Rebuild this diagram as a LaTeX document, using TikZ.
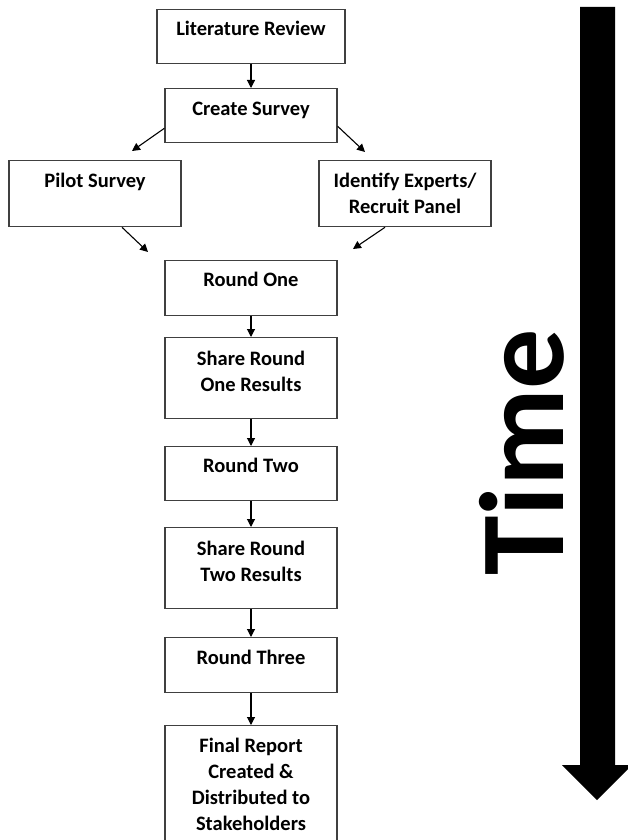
\documentclass[tikz,border=0pt]{standalone}
\usepackage{fontspec}
\setmainfont{Carlito}
\usetikzlibrary{arrows.meta}

\tikzset{
  stage/.style={draw=black!75, line width=1.3pt, align=center,
    minimum width=172pt, inner xsep=4pt, inner ysep=0pt, anchor=north,
    font=\fontsize{20.5}{26}\selectfont\bfseries,
    text height=26pt, text depth=28pt},
  flow/.style={->, line width=1.1pt},
}

\begin{document}
\begin{tikzpicture}[x=1pt, y=-1pt, >={Triangle[length=8pt,width=8pt]}]
    \useasboundingbox (0,0) rectangle (628,840);
    \clip (0,0) rectangle (628,840);

    % Etapas del estudio
    \node[stage, minimum width=188pt] (lit) at (251,9) {Literature Review};
    \node[stage, text height=27pt, text depth=27pt] (create) at (251,88) {Create Survey};
    \node[stage, text height=27pt, text depth=39pt] (pilot) at (95,160) {Pilot Survey};
    \node[stage, text height=53pt, text depth=13pt] (expert) at (405,160) {Identify Experts/\\Recruit Panel};
    \node[stage, text depth=29pt] (r1) at (251,260) {Round One};
    \node[stage, text height=54pt, text depth=27pt] (share1) at (251,337) {Share Round\\One Results};
    \node[stage] (r2) at (251,446) {Round Two};
    \node[stage, text height=54pt, text depth=27pt] (share2) at (251,527) {Share Round\\Two Results};
    \node[stage, text height=27pt] (r3) at (251,637) {Round Three};
    \node[stage, text height=105pt, text depth=30pt] (final) at (251,725) {Final Report\\Created \&\\Distributed to\\Stakeholders};

    % Puntas libres de las flechas diagonales
    \coordinate (pilottip) at (132,151);
    \coordinate (experttip) at (365,152);
    \coordinate (r1left) at (148,252);
    \coordinate (r1right) at (353,249);

    % Flechas entre etapas
    \draw[flow] (lit) -- (create);
    \draw[flow] ([yshift=15pt]create.south west) -- (pilottip);
    \draw[flow] ([yshift=17pt]create.south east) -- (experttip);
    \draw[flow] ([xshift=27pt]pilot.south) -- (r1left);
    \draw[flow] ([xshift=-20pt]expert.south) -- (r1right);
    \draw[flow] (r1) -- (share1);
    \draw[flow] (share1) -- (r2);
    \draw[flow] (r2) -- (share2);
    \draw[flow] (share2) -- (r3);
    \draw[flow] (r3) -- (final);

    % Flecha del tiempo
    \fill (580,7) -- (615,7) -- (615,765) -- (632,765) -- (597,800) -- (562,765) -- (580,765) -- cycle;
    \node[rotate=90, anchor=base west, inner sep=0pt, font=\fontsize{120}{120}\selectfont\bfseries] (time) at (563,576) {Time};
\end{tikzpicture}
\end{document}
